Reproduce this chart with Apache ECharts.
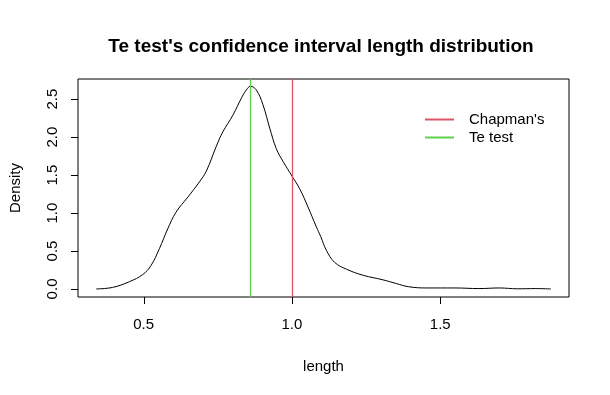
<!DOCTYPE html>
<html>
<head>
<meta charset="utf-8">
<script src="https://cdn.jsdelivr.net/npm/echarts@6/dist/echarts.min.js"></script>
<style>
  html, body { margin: 0; padding: 0; background: #fff; }
  #main { width: 610px; height: 395px; }
</style>
</head>
<body>
<div id="main"></div>
<script>
// density curve
var lengthX = [0.34, 0.395, 0.452, 0.497, 0.525, 0.553, 0.581, 0.609, 0.649, 0.688,
    0.711, 0.745, 0.767, 0.801, 0.829, 0.846, 0.86, 0.88, 0.902, 0.925,
    0.947, 0.97, 0.998, 1.026, 1.054, 1.082, 1.097, 1.116, 1.144, 1.184,
    1.24, 1.307, 1.353, 1.392, 1.454, 1.55, 1.63, 1.7, 1.76, 1.82, 1.873];
var densityY = [0.0, 0.02, 0.096, 0.19, 0.31, 0.53, 0.79, 1.01, 1.21, 1.41,
    1.55, 1.88, 2.07, 2.29, 2.51, 2.62, 2.67, 2.62, 2.43, 2.12,
    1.85, 1.68, 1.5, 1.32, 1.08, 0.82, 0.69, 0.51, 0.35, 0.26,
    0.18, 0.12, 0.07, 0.03, 0.013, 0.013, 0.005, 0.013, 0.002, 0.005, 0.0];
var xTicks = [0.5, 1.0, 1.5];
var yTicks = [0.0, 0.5, 1.0, 1.5, 2.0, 2.5];
var chapmanLen = 1.0;
var teTestLen = 0.857;

var xMin = 0.2787, xMax = 1.934;
var yMin = -0.106, yMax = 2.766;

var myChart = echarts.init(document.getElementById('main'));
var font = 'Liberation Sans, Arial, sans-serif';

var option = {
    animation: false,
    title: {
        text: "Te test's confidence interval length distribution",
        left: 316,
        top: 32,
        textAlign: 'center',
        textStyle: { fontFamily: font, fontSize: 19, fontWeight: 'bold', color: '#000' }
    },
    legend: {
        orient: 'vertical',
        left: 420,
        top: 107,
        itemGap: 3,
        itemWidth: 29,
        itemHeight: 2,
        icon: 'rect',
        textStyle: { fontFamily: font, fontSize: 15, color: '#000', padding: [0, 0, 0, 10] },
        data: ["Chapman's", 'Te test']
    },
    grid: {
        left: 78, right: 41, top: 79, bottom: 98,
        outerBoundsMode: 'none',
        containLabel: false,
        show: true, borderColor: '#000', borderWidth: 1, backgroundColor: 'transparent'
    },
    xAxis: {
        type: 'value',
        min: xMin, max: xMax,
        name: 'length', nameLocation: 'middle', nameGap: 62,
        nameTextStyle: { fontFamily: font, fontSize: 15, color: '#000' },
        splitLine: { show: false },
        axisLine: { show: false, onZero: false },
        axisTick: { show: false },
        axisLabel: {
            customValues: xTicks, margin: 20,
            fontFamily: font, fontSize: 15, color: '#000',
            formatter: function (v) { return v.toFixed(1); }
        }
    },
    yAxis: {
        type: 'value',
        min: yMin, max: yMax,
        name: 'Density', nameLocation: 'middle', nameGap: 55, nameRotate: 90,
        nameTextStyle: { fontFamily: font, fontSize: 15, color: '#000' },
        splitLine: { show: false },
        axisLine: { show: false, onZero: false },
        axisTick: { show: false },
        axisLabel: {
            customValues: yTicks, margin: 18, rotate: 90,
            fontFamily: font, fontSize: 15, color: '#000',
            formatter: function (v) { return v.toFixed(1); }
        }
    },
    series: [
        {
            type: 'line',
            data: lengthX.map(function (x, i) { return [x, densityY[i]]; }),
            smooth: 0.4,
            symbol: 'none',
            lineStyle: { color: '#000', width: 1 },
            z: 3
        },
        {
            name: "Chapman's",
            type: 'line',
            data: [],
            color: '#DF536B',
            markLine: {
                silent: true, symbol: 'none', label: { show: false },
                lineStyle: { color: '#DF536B', type: 'solid', width: 1.3 },
                data: [{ xAxis: chapmanLen }]
            }
        },
        {
            name: 'Te test',
            type: 'line',
            data: [],
            color: '#61D04F',
            markLine: {
                silent: true, symbol: 'none', label: { show: false },
                lineStyle: { color: '#61D04F', type: 'solid', width: 1.3 },
                data: [{ xAxis: teTestLen }]
            }
        }
    ]
};
myChart.setOption(option);

// R style outward ticks, placed through the chart's own scales
var ticks = [];
xTicks.forEach(function (v) {
    var p = myChart.convertToPixel({ gridIndex: 0 }, [v, yMin]);
    var x = Math.round(p[0]) + 0.5, y = Math.round(p[1]);
    ticks.push({ type: 'line', silent: true, z: 10,
        shape: { x1: x, y1: y, x2: x, y2: y + 7 },
        style: { stroke: '#000', lineWidth: 1 } });
});
yTicks.forEach(function (v) {
    var p = myChart.convertToPixel({ gridIndex: 0 }, [xMin, v]);
    var x = Math.round(p[0]), y = Math.round(p[1]) + 0.5;
    ticks.push({ type: 'line', silent: true, z: 10,
        shape: { x1: x, y1: y, x2: x - 7, y2: y },
        style: { stroke: '#000', lineWidth: 1 } });
});
myChart.setOption({ graphic: ticks });
</script>
</body>
</html>
